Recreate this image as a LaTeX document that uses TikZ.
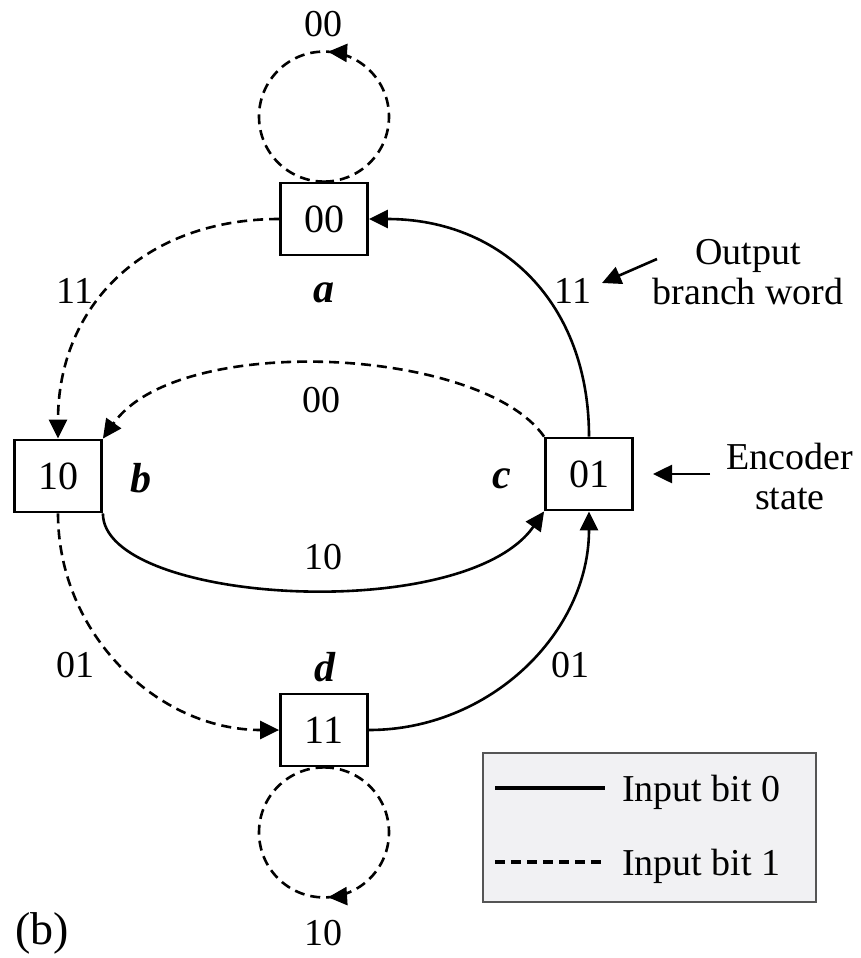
\documentclass[tikz,border=0pt]{standalone}
\usepackage{fontspec}
\setmainfont{Liberation Serif}
\usetikzlibrary{arrows.meta,decorations.markings}
\definecolor{legendfill}{HTML}{F1F1F3}
\definecolor{legenddraw}{HTML}{555555}
\tikzset{
  state/.style={draw, line width=2.8pt, minimum width=87pt, minimum height=72pt, inner sep=0pt, font=\fontsize{40}{42}\selectfont},
  lbl/.style={inner sep=0pt, font=\fontsize{38}{40}\selectfont},
  nm/.style={inner sep=0pt, font=\fontsize{42}{44}\selectfont\bfseries\itshape},
  tip/.style={-{Triangle[length=19pt,width=18pt]}},
  solidedge/.style={line width=2.6pt, tip},
  dashededge/.style={line width=2.6pt, dash pattern=on 10pt off 6pt, tip},
  loopmark/.style={line width=2.6pt, dash pattern=on 10pt off 6pt, postaction={decorate},
    decoration={markings, mark=at position #1 with {\arrow{Triangle[length=19pt,width=18pt]}}}},
}
\begin{document}
\begin{tikzpicture}[x=1pt,y=1pt]
\useasboundingbox[fill=white] (0,0) rectangle (861,-958);
% states
\node[state] (a) at (324,-219) {00};
\node[state] (b) at (58,-476) {10};
\node[state] (c) at (589,-474) {01};
\node[state] (d) at (324,-730) {11};
% state names
\node[nm] (na) at (324,-293) {a};
\node[nm] (nb) at (141,-478) {b};
\node[nm] (nc) at (502,-479) {c};
\node[nm] (nd) at (325,-667) {d};
% self loops
\draw[loopmark=0.49] (a.north) arc[start angle=-90, delta angle=360, radius=65pt];
\draw[loopmark=0.49] (d.south) arc[start angle=90, delta angle=-360, radius=65pt];
% transitions
\draw[dashededge] (a.west) to[out=180,in=90,looseness=1.1] (b.north);
\draw[solidedge] (c.north) to[out=90,in=0,looseness=1.1] (a.east);
\draw[dashededge] (c.north west) to[out=125,in=55,out distance=110pt,in distance=130pt] (b.north east);
\draw[solidedge] (b.south east) to[out=-90,in=-125,out distance=90pt,in distance=140pt] (c.south west);
\draw[dashededge] (b.south) to[out=-90,in=180] (d.west);
\draw[solidedge] (d.east) to[out=0,in=-90] (c.south);
% branch words
\node[lbl] (w1) at (323,-24) {00};
\node[lbl] (w2) at (75,-291) {11};
\node[lbl] (w3) at (573,-291) {11};
\node[lbl] (w4) at (321,-400) {00};
\node[lbl] (w5) at (323,-557) {10};
\node[lbl] (w6) at (75,-665) {01};
\node[lbl] (w7) at (570,-665) {01};
\node[lbl] (w8) at (323,-933) {10};
% annotations
\node[lbl, align=center] (out) at (748,-272) {Output\\branch word};
\coordinate (o1) at (657,-259);
\coordinate (o2) at (602,-283);
\draw[solidedge] (o1) -- (o2);
\node[lbl, align=center] (enc) at (790,-476) {Encoder\\state};
\coordinate (e1) at (710,-474);
\coordinate (e2) at (653,-474);
\draw[solidedge] (e1) -- (e2);
% legend
\node[draw=legenddraw, fill=legendfill, line width=1.5pt, minimum width=333pt, minimum height=149pt, inner sep=0pt] (leg) at (649.5,-827.5) {};
\coordinate (l1a) at (495,-788);
\coordinate (l1b) at (605,-788);
\coordinate (l2a) at (495,-862);
\coordinate (l2b) at (602,-862);
\draw[line width=3.2pt] (l1a) -- (l1b);
\draw[line width=3.2pt, dash pattern=on 10pt off 6pt] (l2a) -- (l2b);
\node[lbl, anchor=base west] (t0) at (622,-801) {Input bit 0};
\node[lbl, anchor=base west] (t1) at (622,-875) {Input bit 1};
% caption
\node[inner sep=0pt, font=\fontsize{46}{48}\selectfont] (cap) at (42,-933) {(b)};
\end{tikzpicture}
\end{document}
